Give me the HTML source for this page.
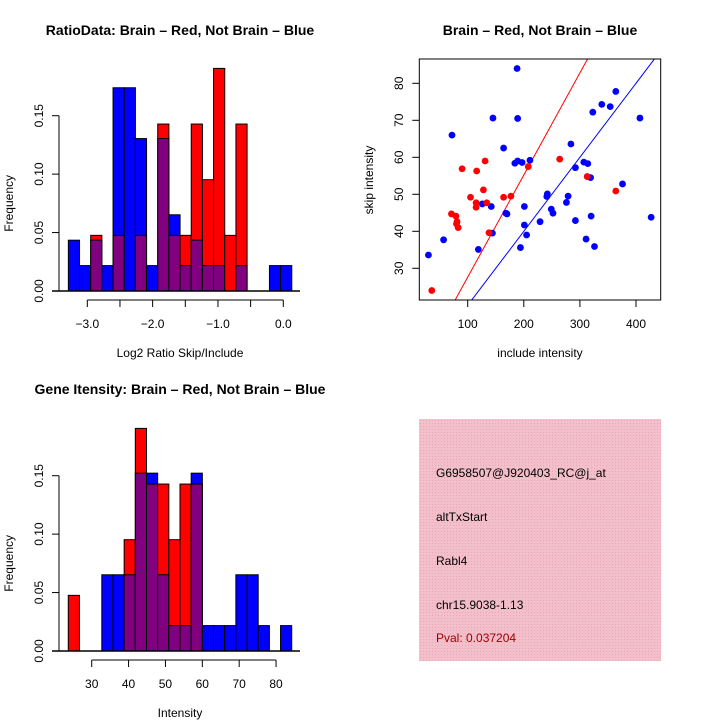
<!DOCTYPE html>
<html><head><meta charset="utf-8"><style>
body{margin:0;background:#fff}
svg{display:block;font-family:"Liberation Sans",sans-serif}
</style></head><body>
<svg id="root" width="720" height="720" viewBox="0 0 720 720">
<defs>
<pattern id="hatch" width="3" height="3" patternUnits="userSpaceOnUse">
<rect width="3" height="3" fill="#f2bfcb"/><rect width="1" height="1" fill="#e8a8b8"/>
</pattern>
</defs>
<rect width="720" height="720" fill="#fff"/>
<text x="180" y="35" font-size="14" font-weight="bold" text-anchor="middle">RatioData: Brain – Red, Not Brain – Blue</text>
<text x="540" y="35" font-size="14" font-weight="bold" text-anchor="middle">Brain – Red, Not Brain – Blue</text>
<text x="180" y="394" font-size="14" font-weight="bold" text-anchor="middle">Gene Itensity: Brain – Red, Not Brain – Blue</text>
<g id="h1"></g>
<g id="h2"></g>
<g id="sc"></g>
<g>
<rect x="419" y="419" width="242" height="242" fill="url(#hatch)"/>
<text x="436" y="477" font-size="12">G6958507@J920403_RC@j_at</text>
<text x="436" y="521" font-size="12">altTxStart</text>
<text x="436" y="565" font-size="12">Rabl4</text>
<text x="436" y="609" font-size="12">chr15.9038-1.13</text>
<text x="436" y="642" font-size="12" fill="#a00000">Pval: 0.037204</text>
</g>
</svg>
<script>
const NS="http://www.w3.org/2000/svg";
// ratio histogram data
const ratioBreakStart=-3.29, ratioBinWidth=0.171;
const ratioBlueCounts=[2,1,2,1,8,8,6,1,6,3,1,2,1,1,0,1,0,0,1,1];
const ratioRedCounts=[0,0,1,0,1,0,1,0,3,1,1,3,2,4,1,3,0,0,0,0];
const ratioXTicks=[-3.0,-2.5,-2.0,-1.5,-1.0,-0.5,0.0];
const ratioXTickLabels=["-3.0","","-2.0","","-1.0","","0.0"];
// intensity histogram data
const intBreakStart=23.65, intBinWidth=3.03;
const intBlueCounts=[0,0,0,3,3,3,7,7,3,1,1,7,1,1,1,3,3,1,0,1];
const intRedCounts=[1,0,0,0,0,2,4,3,3,2,3,3,0,0,0,0,0,0,0,0];
const intXTicks=[30,40,50,60,70,80];
const freqTicks=[0,0.05,0.10,0.15];
const freqTickLabels=["0.00","0.05","0.10","0.15"];
const blueTotal=46, redTotal=21;
// scatter data
const blueInclude=[30,57,72,119,126,142,145,144,164,168,170,184,188,189,189,197,211,201,201,194,205,229,241,242,249,252,276,279,284,292,292,307,314,311,319,320,323,326,339,354,364,376,407,427];
const blueSkip=[33.6,37.7,66,35.1,47.4,46.7,70.6,39.5,62.5,44.9,44.7,58.4,84,70.5,59,58.6,59.2,46.7,41.7,35.6,39,42.6,49.4,50.1,46,44.9,47.8,49.5,63.6,57.2,42.9,58.7,58.3,37.9,54.5,44.1,72.2,35.9,74.3,73.7,77.8,52.8,70.6,43.8];
const redInclude=[36,71,79,81,80,83,90,105,116,115,115,128,131,134,138,164,177,208,264,313,364];
const redSkip=[24,44.7,44.1,42.6,42,41,56.9,49.2,56.3,47.7,46.5,51.2,59,47.7,39.6,49.2,49.5,57.5,59.5,54.8,50.9];
const redSlope=0.276, blueSlope=0.2;
const scXTicks=[100,200,300,400];
const scYTicks=[30,40,50,60,70,80];

function el(parent,tag,attrs,text){const e=document.createElementNS(NS,tag);for(const k in attrs)e.setAttribute(k,attrs[k]);if(text!==undefined)e.textContent=text;parent.appendChild(e);return e;}

function hist(g,o){
  const fx=v=>o.x0px+(v-o.x0)*o.kx, fy=v=>o.y0px-v*o.ky;
  for(let i=0;i<o.blue.length;i++){
    const a=o.x+i*o.w, x1=fx(a), x2=fx(a+o.w);
    const b=o.blue[i]/blueTotal, r=o.red[i]/redTotal;
    const hi=Math.max(b,r), lo=Math.min(b,r);
    if(hi>0){const e=el(g,'rect',{x:x1,y:fy(hi),width:x2-x1,height:fy(0)-fy(hi),fill:b>=r?'#0000ff':'#ff0000',stroke:'#000','stroke-width':1});
      
      }
    if(lo>0){const e=el(g,'rect',{x:x1,y:fy(lo),width:x2-x1,height:fy(0)-fy(lo),fill:'#800080',stroke:'#000','stroke-width':1});
      
      }
  }
  el(g,'line',{x1:52,x2:300,y1:o.y0px,y2:o.y0px,stroke:'#000','stroke-width':1.5});
  // y axis
  el(g,'line',{x1:59,x2:59,y1:fy(0),y2:fy(0.15),stroke:'#000'});
  freqTicks.forEach((t,i)=>{el(g,'line',{x1:52,x2:59,y1:fy(t),y2:fy(t),stroke:'#000'});
    const tx=el(g,'text',{x:0,y:0,'font-size':12,'text-anchor':'middle',transform:`translate(43,${fy(t)}) rotate(-90)`},freqTickLabels[i]);
    
    });
  const yl=el(g,'text',{x:0,y:0,'font-size':12,'text-anchor':'middle',transform:`translate(13,${fy(0.075)}) rotate(-90)`},'Frequency');
  
  
  // x axis
  const ay=o.y0px+9;
  el(g,'line',{x1:fx(o.ticks[0]),x2:fx(o.ticks[o.ticks.length-1]),y1:ay,y2:ay,stroke:'#000'});
  o.ticks.forEach((t,i)=>{el(g,'line',{x1:fx(t),x2:fx(t),y1:ay,y2:ay+7,stroke:'#000'});
    const tx=el(g,'text',{x:fx(t),y:ay+28,'font-size':12,'text-anchor':'middle'},o.labels[i]);
    
    });
  const xl=el(g,'text',{x:180,y:o.y0px+66,'font-size':12,'text-anchor':'middle'},o.xlab);
  
  
}
const kY=175.3/0.15;
hist(document.getElementById('h1'),{x:ratioBreakStart,w:ratioBinWidth,blue:ratioBlueCounts,red:ratioRedCounts,x0:-3,x0px:87.3,kx:65.33,y0px:291,ky:kY,ticks:ratioXTicks,labels:ratioXTickLabels.map(s=>s.replace('-','\u2212')),xlab:'Log2 Ratio Skip/Include'});
hist(document.getElementById('h2'),{x:intBreakStart,w:intBinWidth,blue:intBlueCounts,red:intRedCounts,x0:30,x0px:91.7,kx:3.687,y0px:651,ky:kY,ticks:intXTicks,labels:intXTicks.map(String),xlab:'Intensity'});

// scatter
(function(){
  const g=document.getElementById('sc');
  const L=419.3,R=660.7,T=59,B=300;
  const sx=v=>467.7+(v-100)*0.561, sy=v=>268.3-(v-30)*3.7;
  const inv=px=>30+(268.3-px)/3.7, invx=px=>100+(px-467.7)/0.561;
  const cp=el(g,'clipPath',{id:'clip'});el(cp,'rect',{x:L,y:T,width:R-L,height:B-T});
  const lg=el(g,'g',{'clip-path':'url(#clip)'});
  [[redSlope,'#ff0000','red-fit-line'],[blueSlope,'#0000ff','blue-fit-line']].forEach(([s,c,n])=>{
    const x1=invx(L),x2=invx(R);
    const l=el(lg,'line',{x1:sx(x1),y1:sy(s*x1),x2:sx(x2),y2:sy(s*x2),stroke:c,'stroke-width':1});
    
    });
  blueInclude.forEach((x,i)=>{const c=el(g,'circle',{cx:sx(x),cy:sy(blueSkip[i]),r:3.4,fill:'#0000ff'});
    
    });
  redInclude.forEach((x,i)=>{const c=el(g,'circle',{cx:sx(x),cy:sy(redSkip[i]),r:3.4,fill:'#ff0000'});
    
    });
  el(g,'rect',{x:L,y:T,width:R-L,height:B-T,fill:'none',stroke:'#000','stroke-width':1});
  scXTicks.forEach(t=>{el(g,'line',{x1:sx(t),x2:sx(t),y1:B,y2:B+7,stroke:'#000'});
    const tx=el(g,'text',{x:sx(t),y:B+28,'font-size':12,'text-anchor':'middle'},String(t));
    
    });
  scYTicks.forEach(t=>{el(g,'line',{x1:L-7,x2:L,y1:sy(t),y2:sy(t),stroke:'#000'});
    const tx=el(g,'text',{x:0,y:0,'font-size':12,'text-anchor':'middle',transform:`translate(403,${sy(t)}) rotate(-90)`},String(t));
    
    });
  const xl=el(g,'text',{x:540,y:357,'font-size':12,'text-anchor':'middle'},'include intensity');
  
  
  const yl=el(g,'text',{x:0,y:0,'font-size':12,'text-anchor':'middle',transform:`translate(373,180) rotate(-90)`},'skip intensity');
  
  
})();
</script>
</body></html>
